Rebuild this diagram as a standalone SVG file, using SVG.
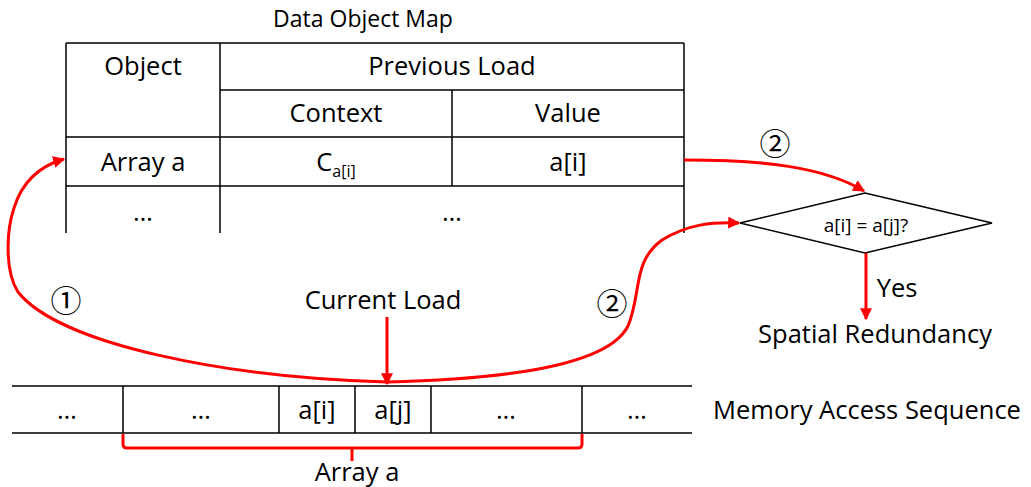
<svg xmlns="http://www.w3.org/2000/svg" width="1031" height="487" viewBox="0 0 1031 487">
  <style>
    text { font-family: "Open Sans", "Liberation Sans", sans-serif; fill: #000; text-anchor: middle; }
    .t26 { font-size: 25.5px; }
    .title { font-size: 23px; }
    .t19 { font-size: 19px; }
    .num { font-family: "Noto Sans CJK JP", "DejaVu Sans", sans-serif; font-size: 31px; }
    .grid { stroke: #000; stroke-width: 1.5; fill: none; }
    .red { stroke: #ff0000; stroke-width: 3; fill: none; }
  </style>
  <defs>
    <marker id="arrow" viewBox="0 0 10 10" refX="9" refY="5" markerWidth="4" markerHeight="4" orient="auto" markerUnits="strokeWidth">
      <path d="M0,0 L10,5 L0,10 z" fill="#ff0000"/>
    </marker>
  </defs>
  <rect width="1031" height="487" fill="#fff"/>

  <!-- data object map table -->
  <g id="object-map">
    <text class="title" x="363" y="27">Data Object Map</text>
    <path class="grid" d="M66,43 H684 M220,90 H684 M66,137 H684 M66,186 H684 M66,43 V233 M220,43 V233 M452,90 V186 M684,43 V233"/>
    <text class="t26" x="143" y="75">Object</text>
    <text class="t26" x="452" y="75">Previous Load</text>
    <text class="t26" x="336" y="122">Context</text>
    <text class="t26" x="568" y="122">Value</text>
    <text class="t26" x="143" y="171">Array a</text>
    <text class="t26" x="336" y="171">C<tspan font-size="16px" dy="6">a[i]</tspan></text>
    <text class="t26" x="568" y="171">a[i]</text>
    <text class="t26" x="143" y="221">…</text>
    <text class="t26" x="452" y="221">…</text>
  </g>

  <!-- comparison decision -->
  <g id="compare">
    <path class="grid" d="M740,223 L865,193 L992,223 L865,253 Z"/>
    <text class="t19" x="866" y="232">a[i] = a[j]?</text>
  </g>

  <g id="result">
    <text class="t26" x="875" y="343">Spatial Redundancy</text>
  </g>

  <g id="current-load">
    <text class="t26" x="383" y="309">Current Load</text>
  </g>

  <!-- memory access sequence -->
  <g id="memory-sequence">
    <path class="grid" d="M12,386 H692 M12,433 H692 M123,386 V433 M279,386 V433 M355,386 V433 M431,386 V433 M582,386 V433"/>
    <text class="t26" x="67" y="419">…</text>
    <text class="t26" x="201" y="419">…</text>
    <text class="t26" x="317" y="419">a[i]</text>
    <text class="t26" x="393" y="419">a[j]</text>
    <text class="t26" x="506" y="419">…</text>
    <text class="t26" x="637" y="419">…</text>
    <text class="t26" x="867" y="419">Memory Access Sequence</text>
  </g>

  <g id="array-range">
    <path class="red" d="M123,434 V444 Q123,448 127,448 H578 Q582,448 582,444 V434 M352,448 V461"/>
    <text class="t26" x="357" y="481">Array a</text>
  </g>

  <!-- connectors -->
  <g id="connectors">
    <path class="red" marker-end="url(#arrow)" d="M387,317 V384"/>
    <path class="red" marker-end="url(#arrow)" d="M387,382 C230,378 60,345 18,292 C5,272 6,232 14,208 C22,182 40,166 64,159"/>
    <path class="red" marker-end="url(#arrow)" d="M387,382 C520,379 610,362 628,326 C642,292 632,262 662,240 C688,224 712,222 739,223"/>
    <path class="red" marker-end="url(#arrow)" d="M684,160 C760,160 822,166 864,191"/>
    <path class="red" marker-end="url(#arrow)" d="M866,253 V319"/>
    <text class="num" x="66" y="312">①</text>
    <text class="num" x="612" y="315">②</text>
    <text class="num" x="775" y="155">②</text>
    <text class="t26" x="897" y="297">Yes</text>
  </g>
</svg>
